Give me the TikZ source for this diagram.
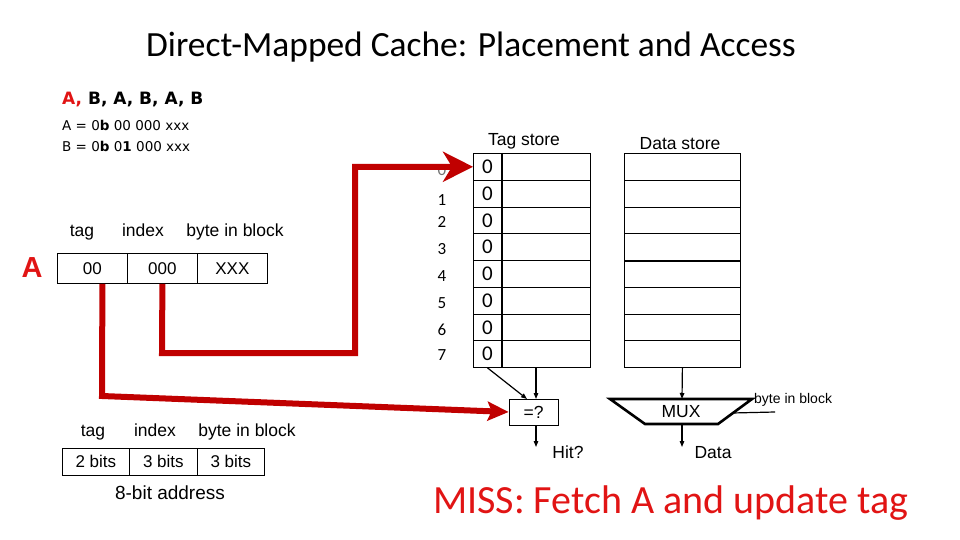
\documentclass[tikz,border=0pt]{standalone}
\usepackage{fontspec}
\setmainfont{Liberation Sans}
\newfontfamily\calfont{Carlito}
\newfontfamily\dvsfont{DejaVu Sans}
\usetikzlibrary{arrows.meta,calc}
\definecolor{redline}{RGB}{192,0,0}
\definecolor{redtext}{RGB}{225,20,20}
\newcommand\fsz[1]{\fontsize{#1}{#1}\selectfont}
\begin{document}
\begin{tikzpicture}[x=1pt,y=-1pt,
  lbl/.style={inner sep=0pt, font=\fsz{17.5}, text height=12.5pt, text depth=3.5pt, yshift=-2pt},
  cellbox/.style={draw, line width=0.8pt, inner sep=0pt, anchor=north west},
  tagcell/.style={cellbox, minimum width=28pt, minimum height=26.75pt, font=\calfont\fsz{21}},
  widecell/.style={cellbox, minimum width=89pt, minimum height=26.75pt},
  datacell/.style={cellbox, minimum width=116pt, minimum height=26.75pt},
  addrcell/.style={cellbox, minimum width=70pt, minimum height=30pt, font=\fsz{17}},
  bitcell/.style={cellbox, minimum height=27pt, font=\fsz{17}},
  idx/.style={inner sep=0pt, font=\calfont\fsz{17}},
  redpath/.style={draw=redline, line width=6pt, line join=miter},
  blackarrow/.style={draw, line width=1.2pt, -{Triangle[length=6pt,width=4.5pt]}}
]
\useasboundingbox (0,0) rectangle (960,540);

% title
\node[inner sep=0pt] (title) at (471,47) {\calfont\fsz{35.4}Direct-Mapped Cache: Placement and Access};

% access sequence and addresses
\node[inner sep=0pt, anchor=west] (seq) at (62,100) {\dvsfont\bfseries\fsz{17}\textcolor{redtext}{A,} B, A, B, A, B};
\node[inner sep=0pt, anchor=west] (adda) at (62,125) {\dvsfont\fsz{13.5}A = 0\textbf{b} 00 000 xxx};
\node[inner sep=0pt, anchor=west] (addb) at (62,146) {\dvsfont\fsz{13.5}B = 0\textbf{b} 0\textbf{1} 000 xxx};

% address A fields
\node[lbl] (ltag) at (82,230) {tag};
\node[lbl] (lidx) at (143,230) {index};
\node[lbl] (lbib) at (235,230) {byte in block};
\node[inner sep=0pt, text=redtext, font=\bfseries\fsz{29}] (bigA) at (32,268) {A};
\node[addrcell] (f00) at (57,253) {00};
\node[addrcell] (f000) at (127,253) {000};
\node[addrcell] (fxxx) at (197,253) {XXX};

% tag store / data store
\node[lbl] (tslabel) at (524,139) {Tag store};
\node[lbl] (dslabel) at (680,143) {Data store};
\foreach \i in {0,...,7}{
  \node[tagcell] (tagc\i) at (473,{153+26.75*\i}) {0};
  \node[widecell] (tagw\i) at (501,{153+26.75*\i}) {};
  \node[datacell] (d\i) at (624,{153+26.75*\i}) {};
}
\draw[line width=1.8pt] (tagc0.north east) -- (tagc7.south east);
\draw[line width=1.6pt] (d0.south west) -- (d0.south east);
\draw[line width=1.6pt] (d3.south west) -- (d3.south east);

% set indices
\node[idx, text=black!55] (i0) at (442,170) {0};
\node[idx] (i1) at (442,200) {1};
\node[idx] (i2) at (442,222) {2};
\node[idx] (i3) at (442,249) {3};
\node[idx] (i4) at (442,276) {4};
\node[idx] (i5) at (442,303) {5};
\node[idx] (i6) at (442,330) {6};
\node[idx] (i7) at (442,355) {7};

% comparator
\node[draw, line width=0.8pt, minimum width=49pt, minimum height=26pt, inner sep=0pt, font=\fsz{17.5}] (eq) at (533.5,412) {=?};
\coordinate (eqtop) at (536,399);
\coordinate (eqdiag) at (527,399);
\draw[blackarrow] (tagc7.south) -- (eqdiag);
\draw[blackarrow] (tagw7.south -| eqtop) -- (eqtop);
\coordinate (hitend) at (536,447);
\draw[blackarrow] (eq.south -| hitend) -- (hitend);
\node[lbl] (hit) at (568,452) {Hit?};

% MUX
\coordinate (mtl) at (610,399);
\coordinate (mtr) at (752,399);
\coordinate (mbr) at (718,424);
\coordinate (mbl) at (645,424);
\draw[line width=2.6pt, line join=miter] (mtl) -- (mtr) -- (mbr) -- (mbl) -- cycle;
\node[lbl] (mux) at (681,411) {MUX};
\coordinate (muxtop) at (682,399);
\coordinate (muxbot) at (682,424);
\coordinate (dataend) at (682,447);
\draw[blackarrow] (d7.south) -- (muxtop);
\draw[blackarrow] (muxbot) -- (dataend);
\node[lbl] (data) at (713,452) {Data};
\coordinate (bibend) at (775,412);
\coordinate (bibmux) at (732,413);
\draw[line width=1.2pt] (bibend) -- (bibmux);
\node[inner sep=0pt, anchor=west, font=\fsz{14}] (bibr) at (754,400) {byte in block};

% red connectors
\coordinate (r1a) at ($(f00.south)+(10,0)$);
\coordinate (r1b) at (102,396);
\draw[redpath, -{Stealth[length=21pt,width=19pt,inset=4pt]}] (r1a) -- (r1b) -- (eq.west);
\coordinate (r2b) at (162,353);
\coordinate (r2c) at (355,353);
\draw[redpath, -{Stealth[length=30pt,width=30pt,inset=9pt]}] (f000.south) -- (r2b) -- (r2c) |- (tagc0.west);

% bottom address format
\node[lbl] (btag) at (93,430) {tag};
\node[lbl] (bidx) at (155,430) {index};
\node[lbl] (bbib) at (247,430) {byte in block};
\node[bitcell, minimum width=67pt] (b2) at (62,448) {2 bits};
\node[bitcell, minimum width=68pt] (b3a) at (129,448) {\raisebox{2pt}{3 bits}};
\node[bitcell, minimum width=67pt] (b3b) at (197,448) {\raisebox{-1pt}{3 bits}};
\node[inner sep=0pt, font=\fsz{19}] (addr8) at (170,493) {8-bit address};

% miss message
\node[inner sep=0pt, anchor=west, text=redtext] (miss) at (433,503) {\calfont\fsz{40}MISS: Fetch A and update tag};
\end{tikzpicture}
\end{document}
